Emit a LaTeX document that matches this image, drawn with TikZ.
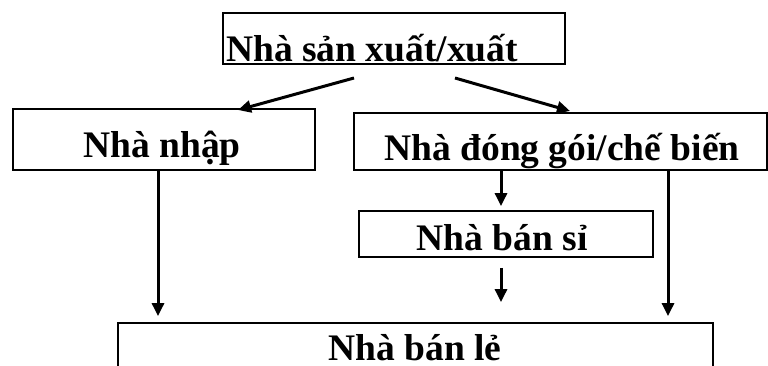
\documentclass[tikz,border=0pt]{standalone}
\usepackage{fontspec}
\setmainfont{Liberation Serif}
\usetikzlibrary{arrows.meta}

\newcommand{\lbl}[1]{\fontsize{37.5}{38}\selectfont\bfseries #1}

\tikzset{
  box/.style={draw=black, line width=1.8pt, rectangle, inner sep=0pt, fill=none},
  lab/.style={inner sep=0pt, anchor=base},
  arr/.style={line width=3pt, -{Triangle[length=13pt,width=12pt]}},
}

\begin{document}
\begin{tikzpicture}[x=1pt,y=-1pt]
  \clip (0,0) rectangle (768,365);
  \fill[white] (0,0) rectangle (768,365);

  % boxes
  \node[box, minimum width=342pt, minimum height=51pt] (top)  at (394,38.5)  {};
  \node[box, minimum width=302pt, minimum height=61pt] (nhap) at (164,139.5) {};
  \node[box, minimum width=413pt, minimum height=57pt] (dong) at (560.5,141.5) {};
  \node[box, minimum width=294pt, minimum height=46pt] (si)   at (506,234)   {};
  \node[box, minimum width=595pt, minimum height=77pt] (le)   at (415.5,361.5) {};

  % labels
  \node[lab, anchor=base west] (ttop) at (226,61) {\lbl{Nhà sản xuất/xuất}};
  \node[lab] (tnhap) at (162,157) {\lbl{Nhà nhập}};
  \node[lab] (tdong) at (562,160) {\lbl{Nhà đóng gói/chế biến}};
  \node[lab] (tsi)   at (502,250) {\lbl{Nhà bán sỉ}};
  \node[lab] (tle)   at (415,360.5) {\lbl{Nhà bán lẻ}};

  % connector ends and columns
  \coordinate (s1) at (354,78);
  \coordinate (e1) at (238,110);
  \coordinate (s2) at (455,78);
  \coordinate (e2) at (570,111);
  \coordinate (c1) at (158,0);
  \coordinate (c2) at (501,0);
  \coordinate (c3) at (668,0);

  % connectors
  \draw[arr] (s1) -- (e1);
  \draw[arr] (s2) -- (e2);
  \draw[arr, shorten >=6pt] (nhap.south -| c1) -- (le.north -| c1);
  \draw[arr, shorten >=6pt] (dong.south -| c3) -- (le.north -| c3);
  \draw[arr, shorten >=4pt] (dong.south -| c2) -- (si.north -| c2);
  \draw[arr, shorten <=10pt, shorten >=20pt] (si.south -| c2) -- (le.north -| c2);
\end{tikzpicture}
\end{document}
